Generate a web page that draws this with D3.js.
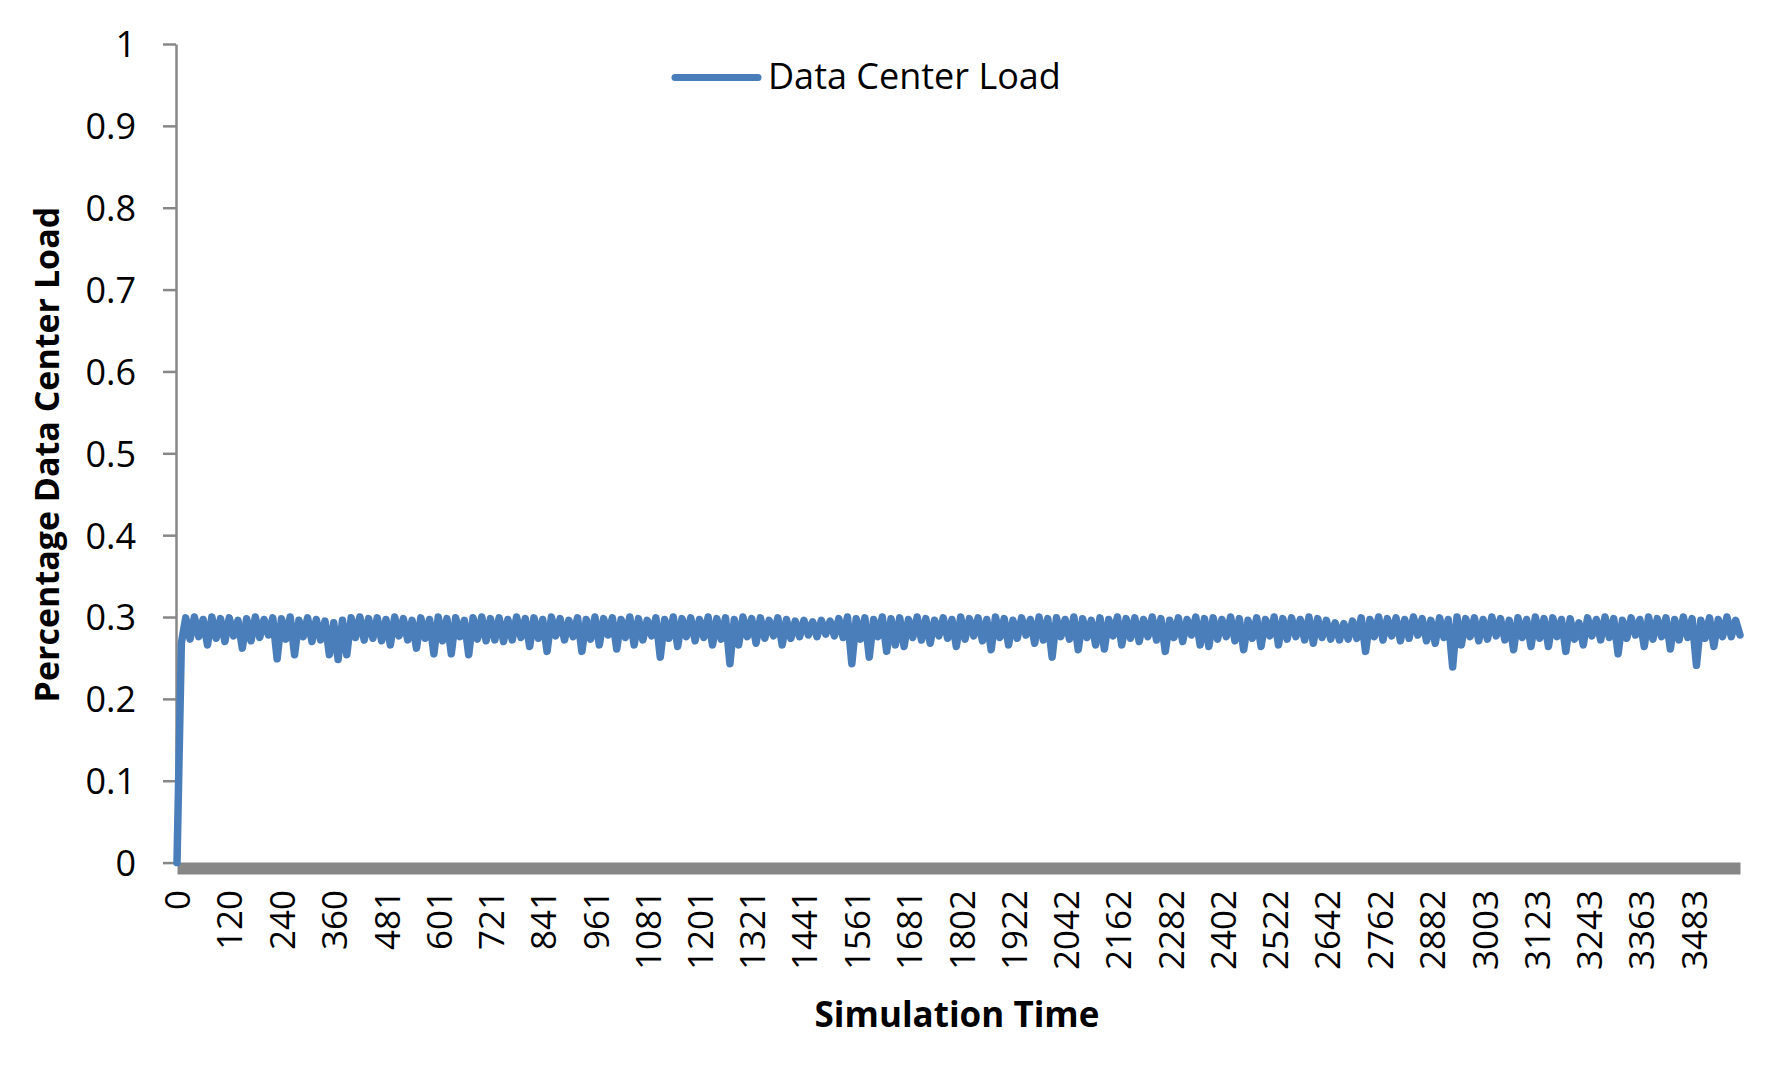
<!DOCTYPE html>
<html><head><meta charset="utf-8">
<script src="https://cdn.jsdelivr.net/npm/d3@7"></script>
<style>body{margin:0;background:#fff} svg{display:block}</style>
</head><body>
<svg id="c" width="1782" height="1065"></svg>
<script>
const seriesName = "Data Center Load";
const xTitle = "Simulation Time";
const yTitle = "Percentage Data Center Load";
const sampleStep = 10; // simulation-time units between samples
const loadValues = [
0,0.268,0.299,0.273,0.300,0.276,0.297,0.266,0.300,0.274,0.298,0.270,0.299,0.277,0.296,0.262,0.298,0.271,0.300,0.275,
0.297,0.278,0.299,0.249,0.298,0.273,0.300,0.254,0.296,0.276,0.299,0.270,0.297,0.272,0.295,0.254,0.293,0.248,0.296,0.254,
0.299,0.275,0.300,0.272,0.298,0.274,0.299,0.271,0.297,0.266,0.300,0.277,0.298,0.272,0.296,0.262,0.299,0.274,0.297,0.255,
0.300,0.271,0.298,0.255,0.299,0.276,0.296,0.254,0.299,0.273,0.300,0.271,0.298,0.272,0.299,0.270,0.297,0.272,0.300,0.275,
0.298,0.264,0.299,0.274,0.297,0.258,0.300,0.277,0.298,0.272,0.296,0.276,0.299,0.258,0.297,0.273,0.300,0.266,0.298,0.278,
0.299,0.261,0.297,0.275,0.300,0.266,0.298,0.272,0.296,0.277,0.299,0.251,0.297,0.274,0.300,0.264,0.298,0.276,0.299,0.271,
0.297,0.275,0.300,0.266,0.298,0.273,0.299,0.243,0.297,0.266,0.300,0.276,0.298,0.268,0.299,0.274,0.296,0.277,0.299,0.266,
0.297,0.274,0.295,0.276,0.296,0.278,0.294,0.276,0.296,0.279,0.295,0.277,0.298,0.275,0.300,0.243,0.298,0.273,0.299,0.251,
0.297,0.276,0.300,0.258,0.298,0.266,0.299,0.264,0.297,0.275,0.300,0.272,0.298,0.268,0.296,0.277,0.299,0.274,0.297,0.264,
0.300,0.273,0.298,0.277,0.299,0.271,0.297,0.260,0.300,0.275,0.298,0.266,0.296,0.274,0.299,0.278,0.297,0.268,0.300,0.272,
0.298,0.251,0.299,0.276,0.297,0.273,0.300,0.260,0.298,0.275,0.296,0.266,0.299,0.261,0.297,0.277,0.300,0.266,0.298,0.274,
0.299,0.270,0.297,0.276,0.300,0.272,0.298,0.258,0.296,0.275,0.299,0.270,0.297,0.278,0.300,0.266,0.298,0.264,0.299,0.273,
0.297,0.276,0.300,0.271,0.298,0.260,0.296,0.274,0.299,0.264,0.297,0.277,0.300,0.266,0.298,0.273,0.299,0.276,0.297,0.272,
0.300,0.268,0.298,0.275,0.296,0.273,0.293,0.272,0.292,0.273,0.295,0.274,0.299,0.258,0.297,0.276,0.300,0.272,0.298,0.277,
0.299,0.271,0.297,0.274,0.300,0.278,0.298,0.271,0.296,0.268,0.299,0.275,0.297,0.239,0.300,0.266,0.298,0.276,0.299,0.271,
0.297,0.273,0.300,0.277,0.298,0.272,0.296,0.260,0.299,0.275,0.297,0.264,0.300,0.274,0.298,0.264,0.299,0.276,0.297,0.258,
0.298,0.273,0.293,0.266,0.299,0.277,0.297,0.272,0.300,0.275,0.298,0.255,0.296,0.274,0.299,0.278,0.297,0.264,0.300,0.273,
0.298,0.276,0.299,0.261,0.297,0.272,0.300,0.275,0.298,0.241,0.296,0.274,0.299,0.264,0.297,0.276,0.300,0.276,0.296,0.278
];
const xTickLabels = [0,120,240,360,481,601,721,841,961,1081,1201,1321,1441,1561,1681,1802,1922,2042,2162,2282,2402,2522,2642,2762,2882,3003,3123,3243,3363,3483];
const yTickValues = [0,0.1,0.2,0.3,0.4,0.5,0.6,0.7,0.8,0.9,1];

const FONT = '"Open Sans", sans-serif';
const svg = d3.select("#c");
const x = d3.scaleLinear().domain([0, (loadValues.length - 1) * sampleStep]).range([177, 1740]);
const y = d3.scaleLinear().domain([0, 1]).range([862.6, 44]);

// X axis (thick grey band)
const gx = svg.append("g").attr("transform", "translate(0,868)")
  .call(d3.axisBottom(x).tickValues(xTickLabels).tickSize(0).tickSizeOuter(0).tickFormat(d => String(d)));
gx.attr("font-family", FONT).attr("font-size", 35);
gx.select(".domain").attr("stroke", "#878787").attr("stroke-width", 12);
gx.selectAll(".tick text")
  .attr("transform", "rotate(-90)").attr("text-anchor", "end")
  .attr("x", -22).attr("y", 0).attr("dy", "0.36em").attr("fill", "#000");

// Y axis
const gy = svg.append("g").attr("transform", "translate(176,0)")
  .call(d3.axisLeft(y).tickValues(yTickValues).tickSize(13).tickPadding(27).tickSizeOuter(0).tickFormat(d => String(d)));
gy.attr("font-family", FONT).attr("font-size", 36);
gy.select(".domain").attr("stroke", "#878787").attr("stroke-width", 2.5);
gy.selectAll(".tick line").attr("stroke", "#878787").attr("stroke-width", 2.5);
gy.selectAll(".tick text").attr("fill", "#000").attr("dy", "0.36em");

// Series line
const line = d3.line().x((d, i) => x(i * sampleStep)).y(d => y(d));
svg.append("path").datum(loadValues).attr("d", line)
  .attr("fill", "none").attr("stroke", "#4a7ebb").attr("stroke-width", 7.5)
  .attr("stroke-linejoin", "round").attr("stroke-linecap", "round");

// Legend
svg.append("line").attr("x1", 675).attr("x2", 758).attr("y1", 77.5).attr("y2", 77.5)
  .attr("stroke", "#4a7ebb").attr("stroke-width", 7).attr("stroke-linecap", "round");
svg.append("text").attr("x", 768).attr("y", 89).attr("font-family", FONT).attr("font-size", 36)
  .attr("fill", "#000").text(seriesName);

// Axis titles
svg.append("text").attr("x", 957).attr("y", 1027).attr("text-anchor", "middle")
  .attr("font-family", FONT).attr("font-size", 35).attr("font-weight", "bold").attr("fill", "#000").text(xTitle);
svg.append("text").attr("transform", "translate(59,454.6) rotate(-90)").attr("text-anchor", "middle")
  .attr("font-family", FONT).attr("font-size", 34).attr("font-weight", "bold").attr("fill", "#000").text(yTitle);
</script>
</body></html>
